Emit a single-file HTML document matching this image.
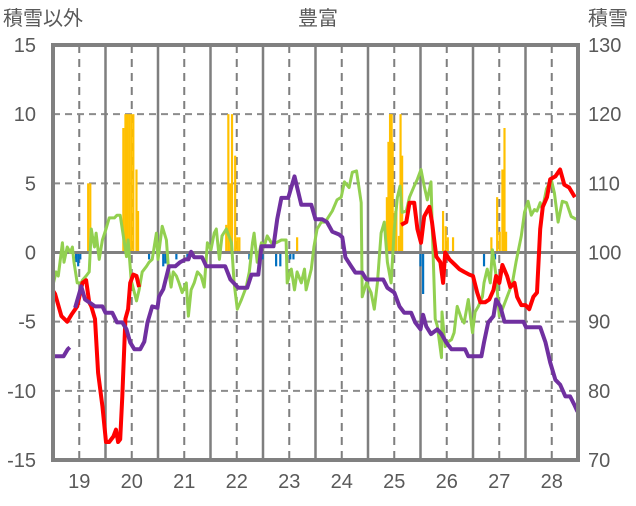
<!DOCTYPE html>
<html><head><meta charset="utf-8"><style>
body{margin:0;background:#fff;}
svg text{font-family:"Liberation Sans","Noto Sans CJK JP",sans-serif;fill:#595959;}
</style></head><body>
<svg id="chart" width="636" height="501" viewBox="0 0 636 501" xmlns="http://www.w3.org/2000/svg">
<text x="318" y="25" font-size="20" text-anchor="middle">豊富</text>
<text x="3" y="25" font-size="20">積雪以外</text>
<text x="588" y="25" font-size="20">積雪</text>
<g id="grid"></g>
<g id="bars"></g>
<g id="lines"></g>
<g id="axes"></g>
</svg>
<script>
const dayLabels=[19,20,21,22,23,24,25,26,27,28];
const leftTicks=[15,10,5,0,-5,-10,-15];
const rightTicks=[130,120,110,100,90,80,70];
const orangeDays=[19.17,19.21,19.84,19.88,19.91,19.95,19.99,20.03,20.09,20.12,21.80,21.84,21.88,21.91,21.97,22.01,22.05,22.94,23.15,24.86,24.89,24.92,24.95,24.97,25.02,25.04,25.09,25.12,25.15,25.93,25.98,26.02,26.12,26.85,26.96,27.01,27.06,27.10,27.13];
const orangeVals=[5,5,9,10,10,10,10,10,6,3,2,10,5,10,7,1.1,1.1,0.9,1.1,4,8,10,10,8,3,3,1.2,10,7,3,1.9,1.1,1.1,1.1,4,1.5,6,9,1.5];
const blueDays=[18.94,18.98,19.02,20.33,20.60,20.64,20.85,21.06,22.24,22.43,22.49,22.75,22.83,23.02,23.08,25.50,25.55,26.71,26.92];
const blueVals=[-0.7,-1,-0.5,-0.5,-1,-0.8,-0.5,-0.5,-0.5,-0.7,-0.5,-1,-1,-0.5,-0.5,-1,-3,-1,-0.5];
const redDays=[18.49,18.54,18.66,18.77,18.85,18.96,19.06,19.13,19.19,19.23,19.30,19.36,19.44,19.51,19.57,19.65,19.70,19.74,19.78,19.82,19.88,19.93,19.97,20.03,20.09,20.14,null,25.13,25.23,25.29,25.38,25.44,25.51,25.57,25.67,25.72,25.80,25.88,25.93,25.97,26.05,26.16,26.24,26.33,26.43,26.50,26.58,26.64,26.73,26.81,26.89,26.94,27.00,27.06,27.15,27.21,27.29,27.34,27.42,27.50,27.57,27.65,27.72,27.78,27.83,27.91,27.97,28.07,28.16,28.24,28.33,28.44];
const redVals=[-2.7,-3,-4.6,-5,-4.5,-3.9,-2.2,-2,-3.6,-3.9,-4.8,-8.7,-11.1,-13.7,-13.7,-13.3,-12.8,-13.7,-13.5,-10.4,-4.8,-4.1,-2.2,-1.6,-1.7,-2.5,null,2.0,2.2,3.6,3.6,1.7,0.7,2.6,3.3,2.2,-0.3,-0.7,-2.2,0,-0.5,-0.9,-1.2,-1.4,-1.6,-1.7,-2.9,-3.6,-3.6,-3.4,-2.7,-1.7,-2.2,-0.9,-1.7,-2.5,-2.2,-3.2,-3.8,-3.8,-4.1,-3.2,-2.9,1.7,3.3,4.0,5.3,5.5,6.0,4.9,4.7,4.0];
const greenDays=[18.49,18.56,18.60,18.68,18.71,18.77,18.83,18.87,18.90,18.96,19.04,19.06,19.13,19.19,19.23,19.25,19.29,19.32,19.38,19.44,19.51,19.57,19.67,19.72,19.78,19.84,19.90,19.93,19.99,20.05,20.09,20.14,20.20,20.28,20.33,20.39,20.47,20.50,20.58,20.66,20.70,20.75,20.79,20.85,20.90,20.96,21.04,21.08,21.13,21.19,21.25,21.32,21.38,21.44,21.51,21.57,21.61,21.67,21.72,21.80,21.90,21.95,22.01,22.09,22.18,22.24,22.30,22.33,22.39,22.47,22.52,22.58,22.66,22.75,22.85,22.94,22.96,23.04,23.10,23.15,23.23,23.29,23.32,23.42,23.47,23.53,23.61,23.67,23.72,23.82,23.91,23.99,24.05,24.14,24.20,24.28,24.37,24.39,24.47,24.56,24.62,24.68,24.75,24.81,24.87,24.94,25.00,25.06,25.11,25.15,25.23,25.29,25.38,25.44,25.51,25.57,25.63,25.70,25.72,25.78,25.82,25.90,25.91,25.97,26.01,26.09,26.14,26.20,26.28,26.33,26.41,26.49,26.54,26.60,26.68,26.71,26.77,26.83,26.87,26.94,27.00,27.06,27.15,27.25,27.32,27.42,27.48,27.55,27.61,27.67,27.72,27.78,27.82,27.90,27.99,28.05,28.12,28.20,28.28,28.37,28.47];
const greenVals=[-2.5,-1.4,-1.7,0.7,-0.7,0.4,0,0.4,-0.7,-2.2,-2.2,-2,-1.7,-1.4,1.7,1.2,0.4,1.4,-0.5,0.9,1.7,2.5,2.5,2.7,2.7,1.2,-0.3,0.9,-2,-2.9,-3.5,-2.7,-1.4,-1,-0.7,-0.5,1.4,-0.5,1.9,0.9,-1.2,-2.5,-1.4,-1.7,-2.2,-2.9,-2.2,-4.6,-2.7,-2.2,-1.4,-1.7,-2.5,0.7,0.2,1.4,1.7,-0.5,1.2,1.7,0.7,-2.2,-4.1,-3.4,-2.5,-1.4,0.7,1.4,-0.7,0.7,0.4,1.2,0.7,0.7,0.9,0.9,-2.2,-1.2,-2.7,-1.4,-2.2,-1.2,-2.7,-1.2,0.4,1.7,2.2,2.2,2.4,3,3.8,4,5.1,4.7,5.8,5.9,3.6,-3.2,-2.2,-2.9,-4.1,-2.2,1.4,2.2,-0.7,-2.2,1.7,4,4.8,2.9,3,4,4.8,5.3,6,4.8,3.8,5.1,2.4,-4.8,-5.3,-7.6,-4.3,-6.8,-6.5,-6.3,-5.8,-3.9,-4.8,-5.1,-3.4,-5.8,-4.3,-3.9,-3.2,-2.2,-1.2,-2.2,0.2,-1.7,-4.6,-4.1,-3.2,-2.2,-0.7,1.2,2.9,3.7,2.7,3.1,3.0,3.6,3.1,4.6,5.3,4.3,2.2,3.7,3.6,2.6,2.4];
const purpleDays=[18.49,18.70,18.78,18.82,null,18.92,19.04,19.11,19.19,19.30,19.44,19.50,19.63,19.72,19.82,19.90,19.97,20.05,20.16,20.24,20.30,20.39,20.49,20.52,20.60,20.66,20.71,20.83,20.92,21.02,21.08,21.13,21.19,21.34,21.42,21.78,21.88,22.03,22.20,22.28,22.41,22.47,22.70,22.77,22.85,22.98,23.10,23.23,23.42,23.50,23.63,23.72,23.82,23.95,24.01,24.07,24.18,24.26,24.39,24.47,24.79,24.87,25.00,25.10,25.19,25.32,25.40,25.50,25.55,25.61,25.70,25.82,25.90,25.99,26.09,26.35,26.41,26.66,26.71,26.79,26.89,26.94,27.02,27.10,27.46,27.51,27.78,27.88,27.97,28.07,28.16,28.26,28.35,28.43,28.49];
const purpleVals=[85,85,86,86.3,null,92,95.1,93.2,92.8,92.2,92.2,91.3,91.3,89.9,89.9,88.9,87,86,86,87.1,89.9,92.2,92,93.6,94.7,96.5,98,98,98.6,99,99,100.1,99.3,99.3,98,98,96.1,94.9,94.9,96.8,96.8,100.9,100.9,104.8,107.9,107.9,111,106.9,106.9,104.8,104.8,104.4,103,102.6,102.2,99.3,98,97.1,97.1,96.1,96.1,94.9,94.2,92.2,91.3,91.3,89.9,88.9,91,89.3,88.2,88.9,88.2,87,86,86,85,85,87,89.9,90.8,93.2,92.2,90,90,89.2,89.2,87,84.1,81.6,80.9,79.2,79.2,78,77];

const L=53,R=578,T=45,B=460;
const xS=d=>L+(d-18.5)/10*(R-L);
const yL=v=>B-(v+15)/30*(B-T);
const yR=v=>B-(v-70)/60*(B-T);
const NS="http://www.w3.org/2000/svg";
function mk(tag,parent,attrs){const e=document.createElementNS(NS,tag);for(const k in attrs)e.setAttribute(k,attrs[k]);parent.appendChild(e);return e;}
const grid=document.getElementById('grid'),bars=document.getElementById('bars'),lines=document.getElementById('lines'),axes=document.getElementById('axes');
leftTicks.forEach((v,i)=>{
  const y=yL(v);
  if(v!==0&&v!==15&&v!==-15){const g=mk('line',grid,{x1:L,x2:R,y1:y,y2:y,stroke:'#8c8c8c','stroke-width':2,'stroke-dasharray':'7,5'});
  
  }
  const t=mk('text',axes,{x:36,y:y+7,'font-size':20,'text-anchor':'end'});t.textContent=v;
  
  
  const t2=mk('text',axes,{x:588,y:yR(rightTicks[i])+7,'font-size':20});t2.textContent=rightTicks[i];
  
  
});
dayLabels.forEach(d=>{
  const x=xS(d);
  const g=mk('line',grid,{x1:x,x2:x,y1:T,y2:B,stroke:'#7f7f7f','stroke-width':2,'stroke-dasharray':'8,6'});
  
  
  if(d<28){const s=mk('line',grid,{x1:xS(d+0.5),x2:xS(d+0.5),y1:T,y2:B,stroke:'#7f7f7f','stroke-width':2.5});
  
  }
  const t=mk('text',axes,{x:x,y:488,'font-size':20,'text-anchor':'middle'});t.textContent=d;
  
  
});
const bw=(R-L)/10/24;
orangeDays.forEach((d,i)=>{const y=yL(orangeVals[i]);const r=mk('rect',bars,{x:xS(d)-bw/2,y:y,width:bw,height:yL(0)-y,fill:'#FFC000'});
  
  });
blueDays.forEach((d,i)=>{const y=yL(blueVals[i]);const r=mk('rect',bars,{x:xS(d)-bw/2,y:yL(0),width:bw,height:y-yL(0),fill:'#0070C0'});
  
  });
const z=mk('line',bars,{x1:L,x2:R,y1:yL(0),y2:yL(0),stroke:'#808080','stroke-width':3});


function path(days,vals,ys){let s='',pen=false;days.forEach((d,i)=>{if(d===null){pen=false;return;}s+=(pen?'L':'M')+xS(d).toFixed(1)+','+ys(vals[i]).toFixed(1);pen=true;});return s;}
const pg=mk('path',lines,{d:path(greenDays,greenVals,yL),fill:'none',stroke:'#92D050','stroke-width':3,'stroke-linejoin':'round'});


const pr=mk('path',lines,{d:path(redDays,redVals,yL),fill:'none',stroke:'#FF0000','stroke-width':4,'stroke-linejoin':'round'});


const pp=mk('path',lines,{d:path(purpleDays,purpleVals,yR),fill:'none',stroke:'#7030A0','stroke-width':4,'stroke-linejoin':'round'});


const fr=mk('rect',axes,{x:L,y:T,width:R-L,height:B-T,fill:'none',stroke:'#808080','stroke-width':4});


</script>
</body></html>
